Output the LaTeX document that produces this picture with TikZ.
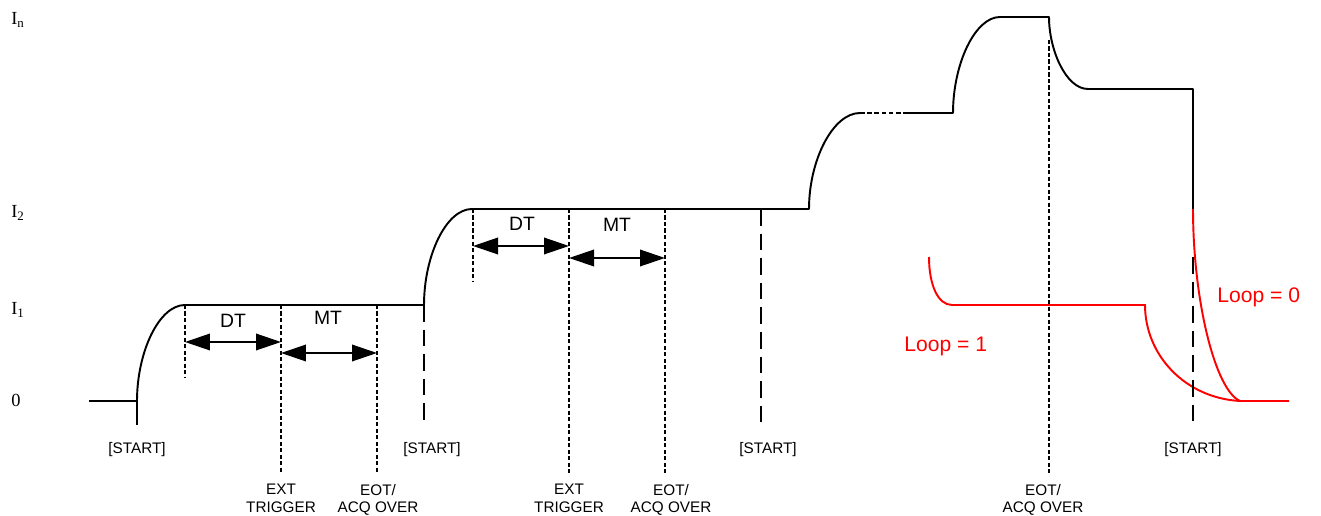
\documentclass[tikz,border=0pt]{standalone}
\usepackage{fontspec}
\setmainfont{Liberation Sans}
\newfontfamily\levelfont{Liberation Serif}
\usetikzlibrary{arrows.meta,calc,positioning}
\colorlet{loopred}{red}

\begin{document}
\begin{tikzpicture}
  [x=0.02cm, y=-0.02cm,
   curve/.style={line width=1.1pt, line join=round},
   loopcurve/.style={line width=1.1pt, loopred},
   startline/.style={line width=1.1pt, dash pattern=on 9.5pt off 4.5pt},
   markline/.style={line width=0.9pt, dash pattern=on 2.3pt off 1.4pt},
   span/.style={
     line width=1.1pt,
     {Triangle[length=0.5cm,width=0.33cm]}-{Triangle[length=0.5cm,width=0.33cm]}
     },
   level/.style={anchor=base west, inner sep=0pt, font=\levelfont\fontsize{10.5}{12}\selectfont},
   tick/.style={inner sep=0pt, align=center, font=\fontsize{8.7}{9.8}\selectfont},
   spanlabel/.style={anchor=base, inner sep=0pt, font=\fontsize{11}{13}\selectfont},
   looplabel/.style={anchor=base west, inner sep=0pt, text=loopred, font=\fontsize{12}{14}\selectfont}
  ]
  \useasboundingbox (0,0) rectangle (1321,516);

  % LIVELLI
  \node[level] (leveln) at (11,25) {I\textsubscript{n}};
  \node[level] (level2) at (11,218) {I\textsubscript{2}};
  \node[level] (level1) at (11,315) {I\textsubscript{1}};
  \node[level] (level0) at (11,407) {0};

  % CURVA
  \coordinate (start1) at (137,401);
  \coordinate (dtmark1) at (185,305);
  \coordinate (extmark1) at (281,305);
  \coordinate (eotmark1) at (377,305);
  \coordinate (start2) at (424,305);
  \coordinate (dtmark2) at (473,209);
  \coordinate (extmark2) at (569,209);
  \coordinate (eotmark2) at (665,209);
  \coordinate (start3) at (761,209);
  \coordinate (eotmark3) at (1049,40);
  \coordinate (start4) at (1193,257);

  \draw[curve] (89,401) -- (start1)
    .. controls (137,352) and (159,305) .. (dtmark1) -- (start2)
    .. controls (424,256) and (446,209) .. (472,209) -- (809,209)
    .. controls (809,160) and (833,113) .. (860,113);
  \draw[curve, dash pattern=on 2.6pt off 1.5pt] (860,113) -- (903,113);
  \draw[curve] (903,113) -- (953,113)
    .. controls (953,64) and (975,17) .. (1000,17) -- (1049,17)
    .. controls (1049,50) and (1066,89) .. (1088,89) -- (1193,89) -- (1193,209);
  \draw[curve] (start1) -- ++(0,24);

  % LOOP
  \draw[loopcurve] (929,257) .. controls (929,285) and (938,305) .. (952,305) -- (1145,305)
    .. controls (1145,355) and (1185,398) .. (1240,401) -- (1289,401);
  \draw[loopcurve] (1193,209) .. controls (1193,300) and (1215,390) .. (1240,401);
  \node[looplabel] (loop1) at (904,352) {Loop = 1};
  \node[looplabel] (loop0) at (1217,303) {Loop = 0};

  % ETICHETTE
  \node[tick, anchor=base] (startlabel1) at (137,454) {[START]};
  \node[tick, anchor=north] (extlabel1) at (281,484) {EXT\\TRIGGER};
  \node[tick, anchor=north] (eotlabel1) at (378,484) {EOT/\\ACQ OVER};
  \node[tick, anchor=base] (startlabel2) at (432,454) {[START]};
  \node[tick, anchor=north] (extlabel2) at (569,484) {EXT\\TRIGGER};
  \node[tick, anchor=north] (eotlabel2) at (671,484) {EOT/\\ACQ OVER};
  \node[tick, anchor=base] (startlabel3) at (768,454) {[START]};
  \node[tick, anchor=north] (eotlabel3) at (1043,484) {EOT/\\ACQ OVER};
  \node[tick, anchor=base] (startlabel4) at (1193,454) {[START]};

  % MARCATORI
  \draw[markline] (dtmark1) -- ++(0,73);
  \draw[markline] (extmark1) -- ++(0,167);
  \draw[markline] (eotmark1) -- ++(0,167);
  \draw[startline] (start2) -- ++(0,115);
  \draw[markline] (dtmark2) -- ++(0,73);
  \draw[markline] (extmark2) -- ++(0,264);
  \draw[markline] (eotmark2) -- ++(0,264);
  \draw[startline] (start3) -- ++(0,216);
  \draw[markline] (eotmark3) -- ++(0,433);
  \draw[startline] (start4) -- ++(0,166);

  % DT / MT
  \draw[span] ($(dtmark1)+(0,37)$) -- ($(extmark1)+(0,37)$);
  \draw[span] ($(extmark1)+(0,48)$) -- ($(eotmark1)+(0,48)$);
  \node[spanlabel] (dtlabel1) at (233,328) {DT};
  \node[spanlabel] (mtlabel1) at (328,325) {MT};
  \draw[span] ($(dtmark2)+(0,37)$) -- ($(extmark2)+(0,37)$);
  \draw[span] ($(extmark2)+(0,49)$) -- ($(eotmark2)+(0,49)$);
  \node[spanlabel] (dtlabel2) at (522,231) {DT};
  \node[spanlabel] (mtlabel2) at (617,232) {MT};
\end{tikzpicture}
\end{document}
